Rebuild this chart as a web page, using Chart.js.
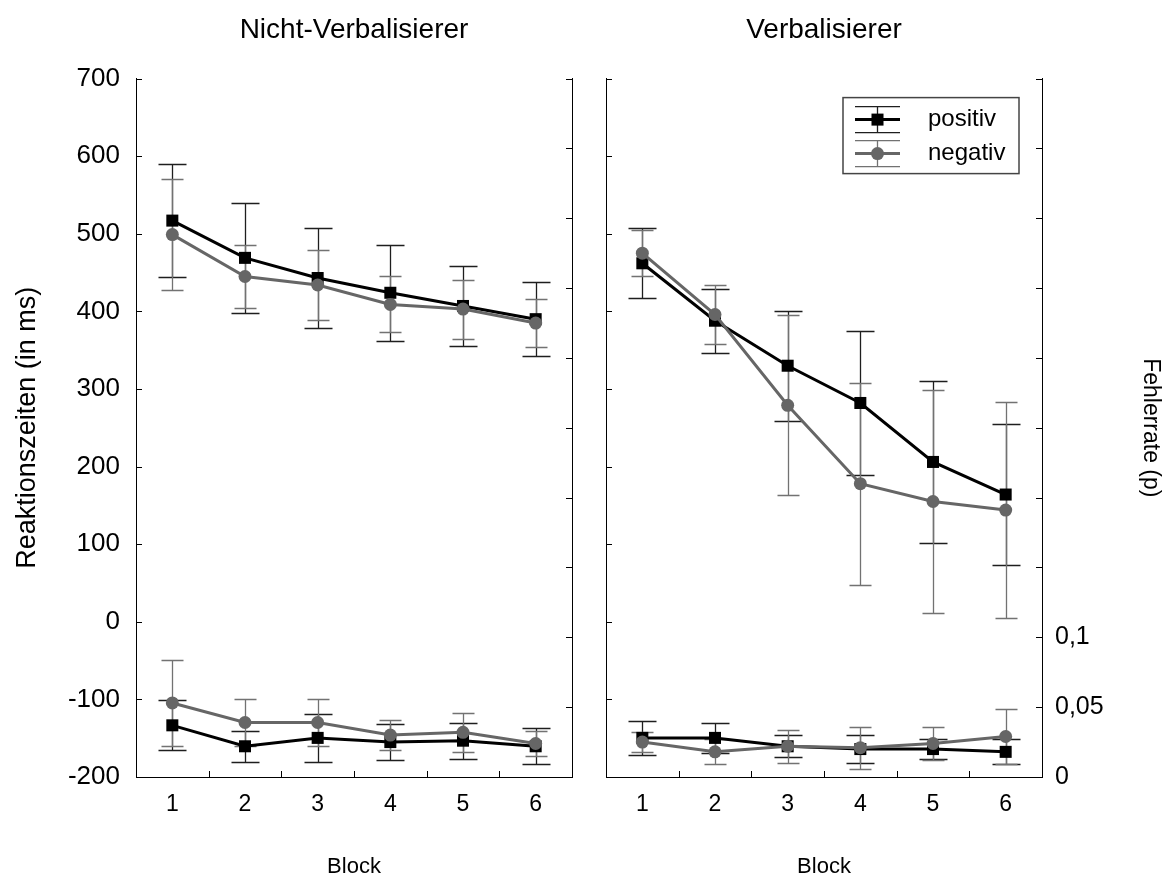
<!DOCTYPE html>
<html>
<head>
<meta charset="utf-8">
<title>Reaktionszeiten und Fehlerrate</title>
<script src="https://cdn.jsdelivr.net/npm/chart.js@4/dist/chart.umd.min.js"></script>
<style>
  html, body { margin: 0; padding: 0; background: #fff; }
  #wrap { position: relative; width: 1173px; height: 878px; overflow: hidden; background: #fff; }
  #wrap canvas { position: absolute; top: 0; }
  #leftPanel { left: 0; }
  #rightPanel { left: 475px; }
</style>
</head>
<body>
<div id="wrap">
  <canvas id="leftPanel" width="708" height="882"></canvas>
  <canvas id="rightPanel" width="698" height="882"></canvas>
</div>
<script>
// ---------------------------
// Daten
// ---------------------------
const blocks = ['1', '2', '3', '4', '5', '6'];
const legendLabels = ['positiv', 'negativ'];

// Nicht-Verbalisierer: Reaktionszeiten (ms) und Fehlerrate (p)
const nvRtPos      = [517, 469, 443, 424, 407, 390];
const nvRtPosErr   = [73, 71, 64, 62, 51, 48];
const nvRtNeg      = [499, 445, 434, 409, 403, 385];
const nvRtNegErr   = [71, 40, 45, 36, 38, 31];
const nvErrPos     = [0.037, 0.022, 0.028, 0.025, 0.026, 0.022];
const nvErrPosErr  = [0.018, 0.011, 0.017, 0.013, 0.013, 0.013];
const nvErrNeg     = [0.053, 0.039, 0.039, 0.030, 0.032, 0.024];
const nvErrNegErr  = [0.031, 0.017, 0.017, 0.011, 0.014, 0.009];

// Verbalisierer
const vRtPos       = [462, 388, 330, 282, 206, 164];
const vRtPosErr    = [45, 41, 71, 93, 104, 91];
const vRtNeg       = [475, 396, 279, 178, 155, 144];
const vRtNegErr    = [30, 38, 116, 130, 144, 139];
const vErrPos      = [0.028, 0.028, 0.022, 0.020, 0.020, 0.018];
const vErrPosErr   = [0.012, 0.011, 0.008, 0.010, 0.007, 0.009];
const vErrNeg      = [0.025, 0.018, 0.022, 0.021, 0.024, 0.029];
const vErrNegErr   = [0.007, 0.009, 0.012, 0.015, 0.012, 0.020];

// Achsen
const rtMin = -200, rtMax = 700, rtStep = 100;
const errMin = 0, errMax = 0.5, errStep = 0.05;
const errLabelMax = 0.1;   // nur 0 / 0,05 / 0,1 beschriften

const FONT = "'Liberation Sans', Arial, Helvetica, sans-serif";
Chart.defaults.font.family = FONT;
Chart.defaults.color = '#000';

const styles = {
  pos: { color: '#000000', errColor: '#1e1e1e', cap: 28, pointStyle: 'rect',   radius: 8.5 },
  neg: { color: '#666666', errColor: '#727272', cap: 22, pointStyle: 'circle', radius: 6.5 },
};

function series(label, values, errors, axis, st, order) {
  return {
    label,
    data: values,
    errors,
    yAxisID: axis,
    borderColor: st.color,
    backgroundColor: st.color,
    borderWidth: 3,
    pointStyle: st.pointStyle,
    pointRadius: st.radius,
    pointBackgroundColor: st.color,
    pointBorderWidth: 0,
    tension: 0,
    clip: false,
    order,
    errColor: st.errColor,
    capWidth: st.cap,
  };
}

// ---------------------------
// Plugins
// ---------------------------
const errorBars = {
  id: 'errorBars',
  beforeDatasetsDraw(chart) {
    const ctx = chart.ctx;
    const xs = chart.scales.x;
    ctx.save();
    chart.data.datasets.forEach(ds => {
      if (!ds.errors) return;
      const ys = chart.scales[ds.yAxisID];
      ctx.strokeStyle = ds.errColor;
      ctx.lineWidth = 1.3;
      const hw = ds.capWidth / 2;
      ds.data.forEach((v, i) => {
        const px = Math.round(xs.getPixelForValue(i)) + 0.5;
        const top = Math.round(ys.getPixelForValue(v + ds.errors[i])) + 0.5;
        const bot = Math.round(ys.getPixelForValue(v - ds.errors[i])) + 0.5;
        ctx.beginPath();
        ctx.moveTo(px, top); ctx.lineTo(px, bot);
        ctx.moveTo(px - hw, top); ctx.lineTo(px + hw, top);
        ctx.moveTo(px - hw, bot); ctx.lineTo(px + hw, bot);
        ctx.stroke();
      });
    });
    ctx.restore();
  }
};

// Striche nach innen, an allen drei Achsen
const innerTicks = {
  id: 'innerTicks',
  afterDraw(chart) {
    const { ctx, chartArea: a, scales } = chart;
    const len = 6;
    ctx.save();
    ctx.strokeStyle = '#000';
    ctx.lineWidth = 1;
    ctx.beginPath();
    scales.y.ticks.forEach(t => {
      const py = Math.round(scales.y.getPixelForValue(t.value)) + 0.5;
      ctx.moveTo(a.left, py); ctx.lineTo(a.left + len, py);
    });
    scales.y1.ticks.forEach(t => {
      const py = Math.round(scales.y1.getPixelForValue(t.value)) + 0.5;
      ctx.moveTo(a.right - len, py); ctx.lineTo(a.right, py);
    });
    for (let i = 0; i < blocks.length - 1; i++) {
      const px = Math.round((scales.x.getPixelForValue(i) + scales.x.getPixelForValue(i + 1)) / 2) + 0.5;
      ctx.moveTo(px, a.bottom); ctx.lineTo(px, a.bottom - len);
    }
    ctx.stroke();
    ctx.restore();
  }
};

// Legende mit Fehlerbalken-Symbol
const errLegend = {
  id: 'errLegend',
  afterDraw(chart, args, opts) {
    if (!opts.show) return;
    const { ctx, chartArea: a } = chart;
    const w = 176, h = 76;
    const bx = a.right - 23 - w, by = a.top + 19;
    ctx.save();
    ctx.strokeStyle = '#444';
    ctx.lineWidth = 1.5;
    ctx.strokeRect(bx, by, w, h);
    [styles.pos, styles.neg].forEach((st, i) => {
      const cy = by + 22 + i * 34;
      const x0 = bx + 12, x1 = bx + 57, cx = bx + 34.5;
      ctx.strokeStyle = st.errColor;
      ctx.lineWidth = 1.3;
      ctx.beginPath();
      ctx.moveTo(x0, cy - 13); ctx.lineTo(x1, cy - 13);
      ctx.moveTo(x0, cy + 13); ctx.lineTo(x1, cy + 13);
      ctx.moveTo(cx, cy - 13); ctx.lineTo(cx, cy + 13);
      ctx.stroke();
      ctx.strokeStyle = st.color;
      ctx.lineWidth = 3;
      ctx.beginPath();
      ctx.moveTo(x0, cy); ctx.lineTo(x1, cy);
      ctx.stroke();
      ctx.fillStyle = st.color;
      Chart.helpers.drawPoint(ctx, { pointStyle: st.pointStyle, radius: st.radius, borderWidth: 0 }, cx, cy);
      ctx.fillStyle = '#000';
      ctx.font = '24px ' + FONT;
      ctx.textBaseline = 'middle';
      ctx.textAlign = 'left';
      ctx.fillText(legendLabels[i], bx + 85, cy);
    });
    ctx.restore();
  }
};

// ---------------------------
// Panel-Optionen
// ---------------------------
function commaNum(v) {
  return String(+v.toFixed(2)).replace('.', ',');
}

function panelOptions(title, isLeft) {
  const noGrid = { display: false, drawTicks: false };
  const border = { display: true, color: '#000', width: 1 };
  return {
    responsive: false,
    animation: false,
    devicePixelRatio: 1,
    layout: { padding: 0, autoPadding: false },
    plugins: {
      legend: { display: false },
      tooltip: { enabled: false },
      title: {
        display: true,
        text: title,
        color: '#000',
        font: { size: 28, weight: 'normal' },
        padding: { top: 13, bottom: 32 }
      },
      errLegend: { show: !isLeft }
    },
    scales: {
      x: {
        offset: true,
        grid: noGrid,
        border,
        ticks: { font: { size: 23 }, padding: 14, color: '#000' },
        title: { display: true, text: 'Block', font: { size: 22 }, padding: { top: 0, bottom: 2 }, color: '#000' },
        afterFit: s => { s.height = 105; }
      },
      y: {
        position: 'left',
        min: rtMin, max: rtMax,
        grid: noGrid,
        border,
        ticks: { stepSize: rtStep, display: isLeft, font: { size: 26 }, padding: 16, color: '#000' },
        title: { display: isLeft, text: 'Reaktionszeiten (in ms)', font: { size: 27 }, padding: { top: 11, bottom: 0 }, color: '#000' },
        afterFit: s => { s.width = isLeft ? 136 : 131; }
      },
      y1: {
        position: 'right',
        min: errMin, max: errMax,
        grid: noGrid,
        border,
        ticks: {
          stepSize: errStep,
          display: !isLeft,
          font: { size: 25 },
          padding: 13,
          color: '#000',
          callback: v => (v <= errLabelMax + 1e-9 ? commaNum(v) : '')
        },
        title: { display: !isLeft, text: 'Fehlerrate (p)', font: { size: 23 }, padding: { top: 9, bottom: 0 }, color: '#000' },
        afterFit: s => { s.width = isLeft ? 136 : 131; }
      }
    }
  };
}

// ---------------------------
// Charts
// ---------------------------
new Chart(document.getElementById('leftPanel'), {
  type: 'line',
  data: {
    labels: blocks,
    datasets: [
      series('positiv', nvRtPos, nvRtPosErr, 'y', styles.pos, 1),
      series('negativ', nvRtNeg, nvRtNegErr, 'y', styles.neg, 0),
      series('positiv', nvErrPos, nvErrPosErr, 'y1', styles.pos, 1),
      series('negativ', nvErrNeg, nvErrNegErr, 'y1', styles.neg, 0),
    ]
  },
  options: panelOptions('Nicht-Verbalisierer', true),
  plugins: [errorBars, innerTicks, errLegend]
});

new Chart(document.getElementById('rightPanel'), {
  type: 'line',
  data: {
    labels: blocks,
    datasets: [
      series('positiv', vRtPos, vRtPosErr, 'y', styles.pos, 1),
      series('negativ', vRtNeg, vRtNegErr, 'y', styles.neg, 0),
      series('positiv', vErrPos, vErrPosErr, 'y1', styles.pos, 1),
      series('negativ', vErrNeg, vErrNegErr, 'y1', styles.neg, 0),
    ]
  },
  options: panelOptions('Verbalisierer', false),
  plugins: [errorBars, innerTicks, errLegend]
});
</script>
</body>
</html>
